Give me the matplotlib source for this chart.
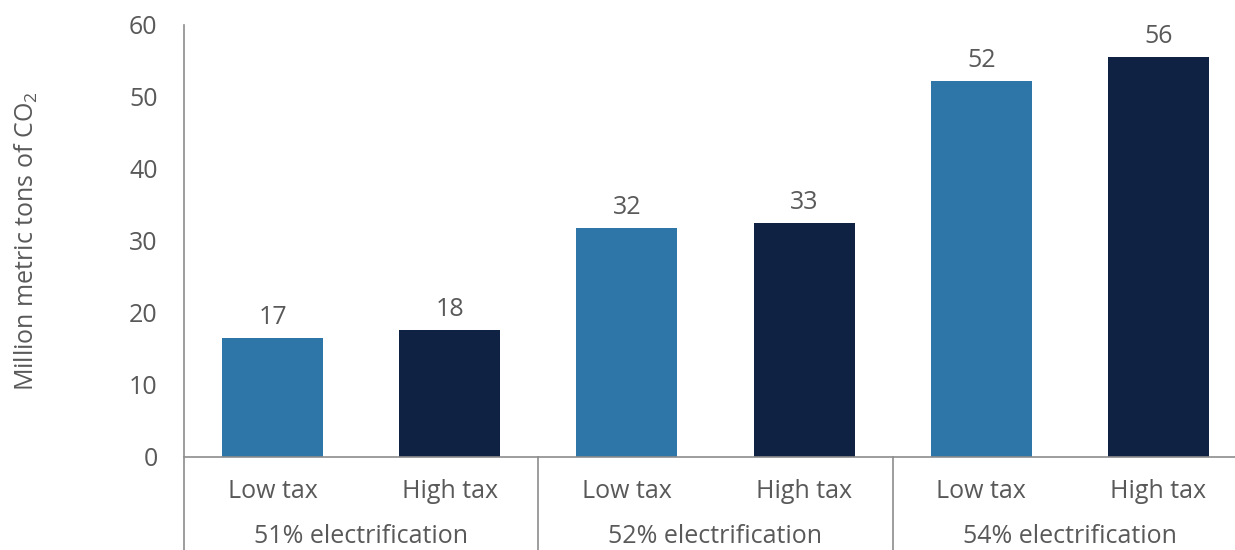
import numpy as np
import matplotlib
matplotlib.use('Agg')
import matplotlib.pyplot as plt
import matplotlib.transforms as mtrans

plt.rcParams['font.family'] = ['Open Sans', 'DejaVu Sans']
plt.rcParams['mathtext.fontset'] = 'custom'
plt.rcParams['mathtext.rm'] = 'Open Sans'
plt.rcParams['mathtext.it'] = 'Open Sans'

# Data
categories = ['Low tax', 'High tax', 'Low tax', 'High tax', 'Low tax', 'High tax']
groups = ['51% electrification', '52% electrification', '54% electrification']
values = [16.5, 17.7, 31.8, 32.5, 52.2, 55.5]
value_labels = ['17', '18', '32', '33', '52', '56']

c_low = '#2E75A8'
c_high = '#102244'
txt = '#595959'
line_c = '#8C8C8C'
fs = 18

fig = plt.figure(figsize=(12.35, 5.5), dpi=100)
ax = fig.add_axes([184/1235, 93/550, 1063/1235, 432/550])

x = np.arange(len(values))
colors = [c_low, c_high] * 3
ax.bar(x, values, width=0.57, color=colors)

for xi, v, lab in zip(x, values, value_labels):
    ax.annotate(lab, (xi, v), xytext=(0, 8), textcoords='offset pixels',
                ha='center', va='bottom', fontsize=fs, color=txt)

ax.set_xlim(-0.5, 5.5)
ax.set_ylim(0, 60)
ax.set_yticks(range(0, 61, 10))
ax.tick_params(axis='y', length=0, pad=19, labelsize=fs, labelcolor=txt)
ax.set_xticks([])

for s in ['top', 'right']:
    ax.spines[s].set_visible(False)
ax.spines['left'].set_visible(False)
ax.spines['bottom'].set_color(line_c)
ax.spines['bottom'].set_linewidth(1.2)

trans = mtrans.blended_transform_factory(ax.transData, ax.transAxes)
# vertical separators (left axis line extends down too)
ax.plot([-0.5, -0.5], [-0.3, 1.0], transform=trans, color=line_c, lw=1.2, clip_on=False)
for sx in [1.5, 3.5]:
    ax.plot([sx, sx], [-0.3, 0], transform=trans, color=line_c, lw=1.2, clip_on=False)

for xi, cat in zip(x, categories):
    ax.text(xi, -0.079, cat, transform=trans, ha='center', va='center',
            fontsize=fs, color=txt)
for gi, g in enumerate(groups):
    ax.text(2*gi + 0.5, -0.185, g, transform=trans, ha='center', va='center',
            fontsize=fs, color=txt)

ax.set_ylabel('Million metric tons of CO$_2$', fontsize=fs, color=txt, labelpad=64)

plt.savefig('out.png', dpi=100)
